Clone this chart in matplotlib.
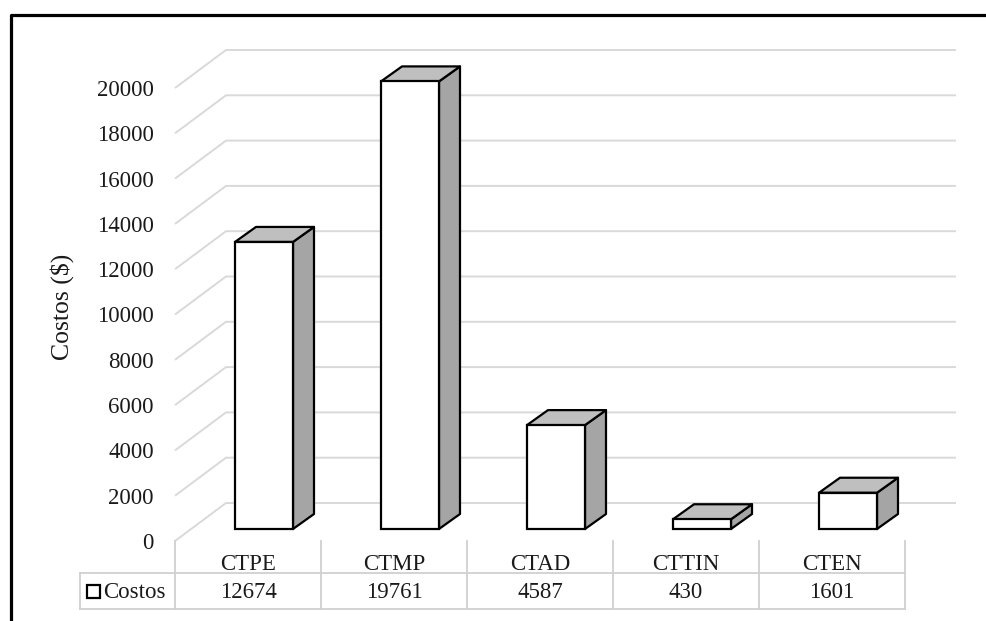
import matplotlib
matplotlib.use("Agg")
import matplotlib.pyplot as plt
from matplotlib.patches import Polygon, Rectangle
from matplotlib.lines import Line2D

# Data
categories = ["CTPE", "CTMP", "CTAD", "CTTIN", "CTEN"]
costos = [12674, 19761, 4587, 430, 1601]
series_name = "Costos"
y_ticks = [0, 2000, 4000, 6000, 8000, 10000, 12000, 14000, 16000, 18000, 20000]
y_label = "Costos ($)"

plt.rcParams["font.family"] = ["Liberation Serif", "DejaVu Serif"]

W, H, DPI = 987, 621, 100
fig = plt.figure(figsize=(W / DPI, H / DPI), dpi=DPI)
ax = fig.add_axes([0, 0, 1, 1])
ax.set_axis_off()

# pixel -> data scale: one category slot = 146 px, 20000 units = 453 px
PX_X = 1 / 146.0
PX_Y = 20000 / 453.0
ax.set_xlim(-264 * PX_X, (W - 264) * PX_X)
ax.set_ylim((529 - H) * PX_Y, 529 * PX_Y)

# pseudo-3D geometry (oblique projection)
front_dx, front_dy = -16 * PX_X, -12 * PX_Y   # floor front edge
back_dx, back_dy = 35 * PX_X, 26 * PX_Y       # back wall
bar_dx, bar_dy = 21 * PX_X, 15 * PX_Y         # bar depth
bar_w = 58 * PX_X
x_lo, x_hi = -0.5, len(categories) - 0.5

grid_c = "#d9d9d9"
table_c = "#d0d0d0"
fs = 16.5

# gridlines: diagonal on the side wall, then horizontal along the back wall
for v in y_ticks:
    xs = [x_lo + front_dx, x_lo + back_dx, x_hi + back_dx]
    ys = [v + front_dy, v + back_dy, v + back_dy]
    ax.plot(xs, ys, color=grid_c, lw=1.4, zorder=1, solid_capstyle="butt")
    ax.text(x_lo + front_dx - 21 * PX_X, v + front_dy, f"{v}", ha="right",
            va="center_baseline", fontsize=fs, color="#1a1a1a")

# 3D bars
for i, v in enumerate(costos):
    xl, xr = i - bar_w / 2, i + bar_w / 2
    side = Polygon([(xr, 0), (xr, v), (xr + bar_dx, v + bar_dy), (xr + bar_dx, bar_dy)],
                   closed=True, facecolor="#a5a5a5", edgecolor="black", lw=1.6,
                   joinstyle="round", zorder=3)
    top = Polygon([(xl, v), (xr, v), (xr + bar_dx, v + bar_dy), (xl + bar_dx, v + bar_dy)],
                  closed=True, facecolor="#bfbfbf", edgecolor="black", lw=1.6,
                  joinstyle="round", zorder=3)
    ax.add_patch(side)
    ax.add_patch(top)
ax.bar(range(len(categories)), costos, width=bar_w, bottom=0, color="white",
       edgecolor="black", linewidth=1.6, zorder=4)

# data table
row_cat = (529 - 562) * PX_Y
row_sep = (529 - 573) * PX_Y
row_val = (529 - 590) * PX_Y
row_bot = (529 - 609) * PX_Y
table_left = (80 - 264) * PX_X
for k in range(len(categories) + 1):
    xb = k - 0.5 + front_dx
    ax.plot([xb, xb], [front_dy, row_bot], color=table_c, lw=1.3, zorder=1)
ax.plot([table_left, x_hi + front_dx], [row_sep, row_sep], color=table_c, lw=1.3, zorder=1)
ax.plot([table_left, x_hi + front_dx], [row_bot, row_bot], color=table_c, lw=1.3, zorder=1)
ax.plot([table_left, table_left], [row_sep, row_bot], color=table_c, lw=1.3, zorder=1)

for i, (c, v) in enumerate(zip(categories, costos)):
    ax.text(i + front_dx, row_cat, c, ha="center", va="center_baseline",
            fontsize=fs, color="#1a1a1a")
    ax.text(i + front_dx, row_val, f"{v}", ha="center", va="center_baseline",
            fontsize=fs, color="#1a1a1a")

# legend key in the table
sq = 13
ax.add_patch(Rectangle(((87 - 264) * PX_X, (529 - 598) * PX_Y), sq * PX_X, sq * PX_Y,
                       facecolor="white", edgecolor="black", lw=1.6, zorder=4))
ax.text((103 - 264) * PX_X, row_val, series_name, ha="left", va="center_baseline",
        fontsize=fs, color="#1a1a1a")

# y-axis title
ax.text((62 - 264) * PX_X, (529 - 307) * PX_Y, y_label, rotation=90, ha="center",
        va="center", fontsize=18.5, color="#1a1a1a")

# outer frame
fig.add_artist(Line2D([11 / W, 11 / W, 1.01], [-0.01, 1 - 15 / H, 1 - 15 / H],
                      transform=fig.transFigure, color="black", lw=2.3))

fig.savefig("out.png", dpi=DPI, facecolor="white")
